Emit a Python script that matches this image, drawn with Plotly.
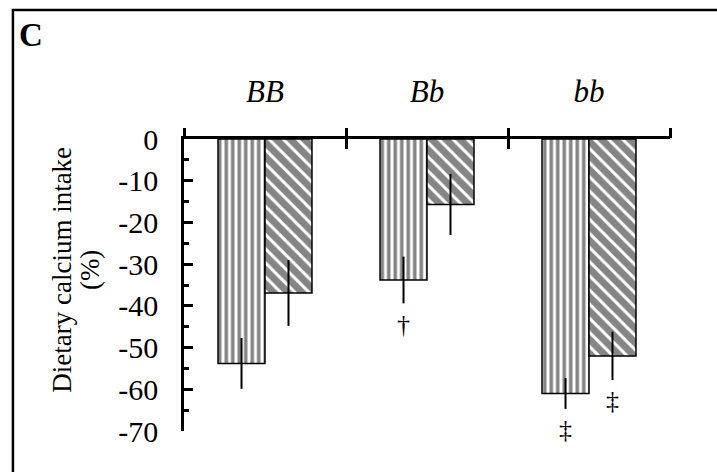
import plotly.graph_objects as go

categories = ["BB", "Bb", "bb"]
stripe_vals = [-53.8, -33.8, -61.0]
stripe_err = [6.1, 5.6, 3.7]
hatch_vals = [-36.9, -15.7, -52.0]
hatch_err = [7.9, 7.3, 5.8]
stripe_marks = ["", "†", "‡"]
hatch_marks = ["", "", "‡"]
y_ticks = [0, -10, -20, -30, -40, -50, -60, -70]
y_minor = [-5, -15, -25, -35, -45, -55, -65]
y_title_lines = ["Dietary calcium intake", "(%)"]

FONT = "Liberation Serif"
BARGAP = 0.42
xpos = [i + 0.5 for i in range(len(categories))]
half = (1 - BARGAP) / 4

fig = go.Figure()
fig.add_trace(go.Bar(
    x=xpos, y=stripe_vals, offsetgroup="a",
    marker=dict(color="white", line=dict(color="black", width=1.5),
                pattern=dict(shape="|", fgcolor="#858585", bgcolor="white",
                             size=6.5, solidity=0.55, fillmode="replace")),
    error_y=dict(type="data", array=stripe_err, color="black", thickness=2, width=0),
    showlegend=False,
))
fig.add_trace(go.Bar(
    x=xpos, y=hatch_vals, offsetgroup="b",
    marker=dict(color="#858585", line=dict(color="black", width=1.5),
                pattern=dict(shape="\\", fgcolor="white", bgcolor="#858585",
                             size=10, solidity=0.3, fillmode="replace")),
    error_y=dict(type="data", array=hatch_err, color="black", thickness=2, width=0),
    showlegend=False,
))

annotations = []
for i, m in enumerate(stripe_marks):
    if m:
        annotations.append(dict(x=xpos[i] - half, y=stripe_vals[i] - stripe_err[i] - 5,
                                xref="x", yref="y", text=m, showarrow=False,
                                font=dict(family=FONT, size=26, color="black")))
for i, m in enumerate(hatch_marks):
    if m:
        annotations.append(dict(x=xpos[i] + half, y=hatch_vals[i] - hatch_err[i] - 5,
                                xref="x", yref="y", text=m, showarrow=False,
                                font=dict(family=FONT, size=26, color="black")))
annotations.append(dict(x=-0.343, y=1.356, xref="paper", yref="paper", text="<b>C</b>",
                        showarrow=False, xanchor="left", yanchor="middle",
                        font=dict(family=FONT, size=33, color="black")))
for xp, line in zip([-0.2517, -0.1934], y_title_lines):
    annotations.append(dict(x=xp, y=0.551, xref="paper", yref="paper", text=line,
                            textangle=-90, showarrow=False, xanchor="center",
                            yanchor="middle",
                            font=dict(family=FONT, size=27, color="black")))

fig.update_layout(
    width=717, height=472,
    margin=dict(l=184, r=47, t=139, b=41),
    paper_bgcolor="white", plot_bgcolor="white",
    barmode="group", bargap=BARGAP, bargroupgap=0,
    font=dict(family=FONT, color="black"),
    annotations=annotations,
    xaxis=dict(range=[0, 3], side="top", tickvals=xpos,
               ticktext=["<i>%s</i>" % c for c in categories],
               ticks="", showline=True, linewidth=2.5, linecolor="black",
               showgrid=False, zeroline=False, ticklabelstandoff=22,
               tickfont=dict(family=FONT, size=31, color="black")),
    xaxis2=dict(range=[0, 3], overlaying="x", anchor="y", side="top",
                tickvals=[0, 1, 2, 3], ticks="outside", ticklen=10, tickwidth=2.5,
                tickcolor="black", showticklabels=False, showline=False,
                showgrid=False, zeroline=False),
    xaxis3=dict(range=[0, 3], overlaying="x", anchor="y", side="top",
                tickvals=[0, 1, 2, 3], ticks="inside", ticklen=10, tickwidth=2.5,
                tickcolor="black", showticklabels=False, showline=False,
                showgrid=False, zeroline=False),
    yaxis=dict(range=[-70, 0], tickvals=y_ticks, ticktext=[str(v) for v in y_ticks],
               ticks="inside", ticklen=9, tickwidth=2.5, tickcolor="black",
               minor=dict(tickvals=y_minor, ticks="inside", ticklen=5, tickwidth=2.5,
                          tickcolor="black", showgrid=False),
               showline=True, linewidth=2.5, linecolor="black",
               showgrid=False, zeroline=False, ticklabelstandoff=17,
               tickfont=dict(family=FONT, size=30, color="black")),
    shapes=[dict(type="rect", xref="paper", yref="paper",
                 x0=-0.352, x1=1.2, y0=-0.3, y1=1.442,
                 line=dict(color="black", width=2.5), layer="below")],
)
fig.add_trace(go.Scatter(x=[0], y=[0], xaxis="x2", mode="markers",
                         marker=dict(opacity=0), showlegend=False, hoverinfo="skip"))
fig.add_trace(go.Scatter(x=[0], y=[0], xaxis="x3", mode="markers",
                         marker=dict(opacity=0), showlegend=False, hoverinfo="skip"))

fig.write_html("out.html")
